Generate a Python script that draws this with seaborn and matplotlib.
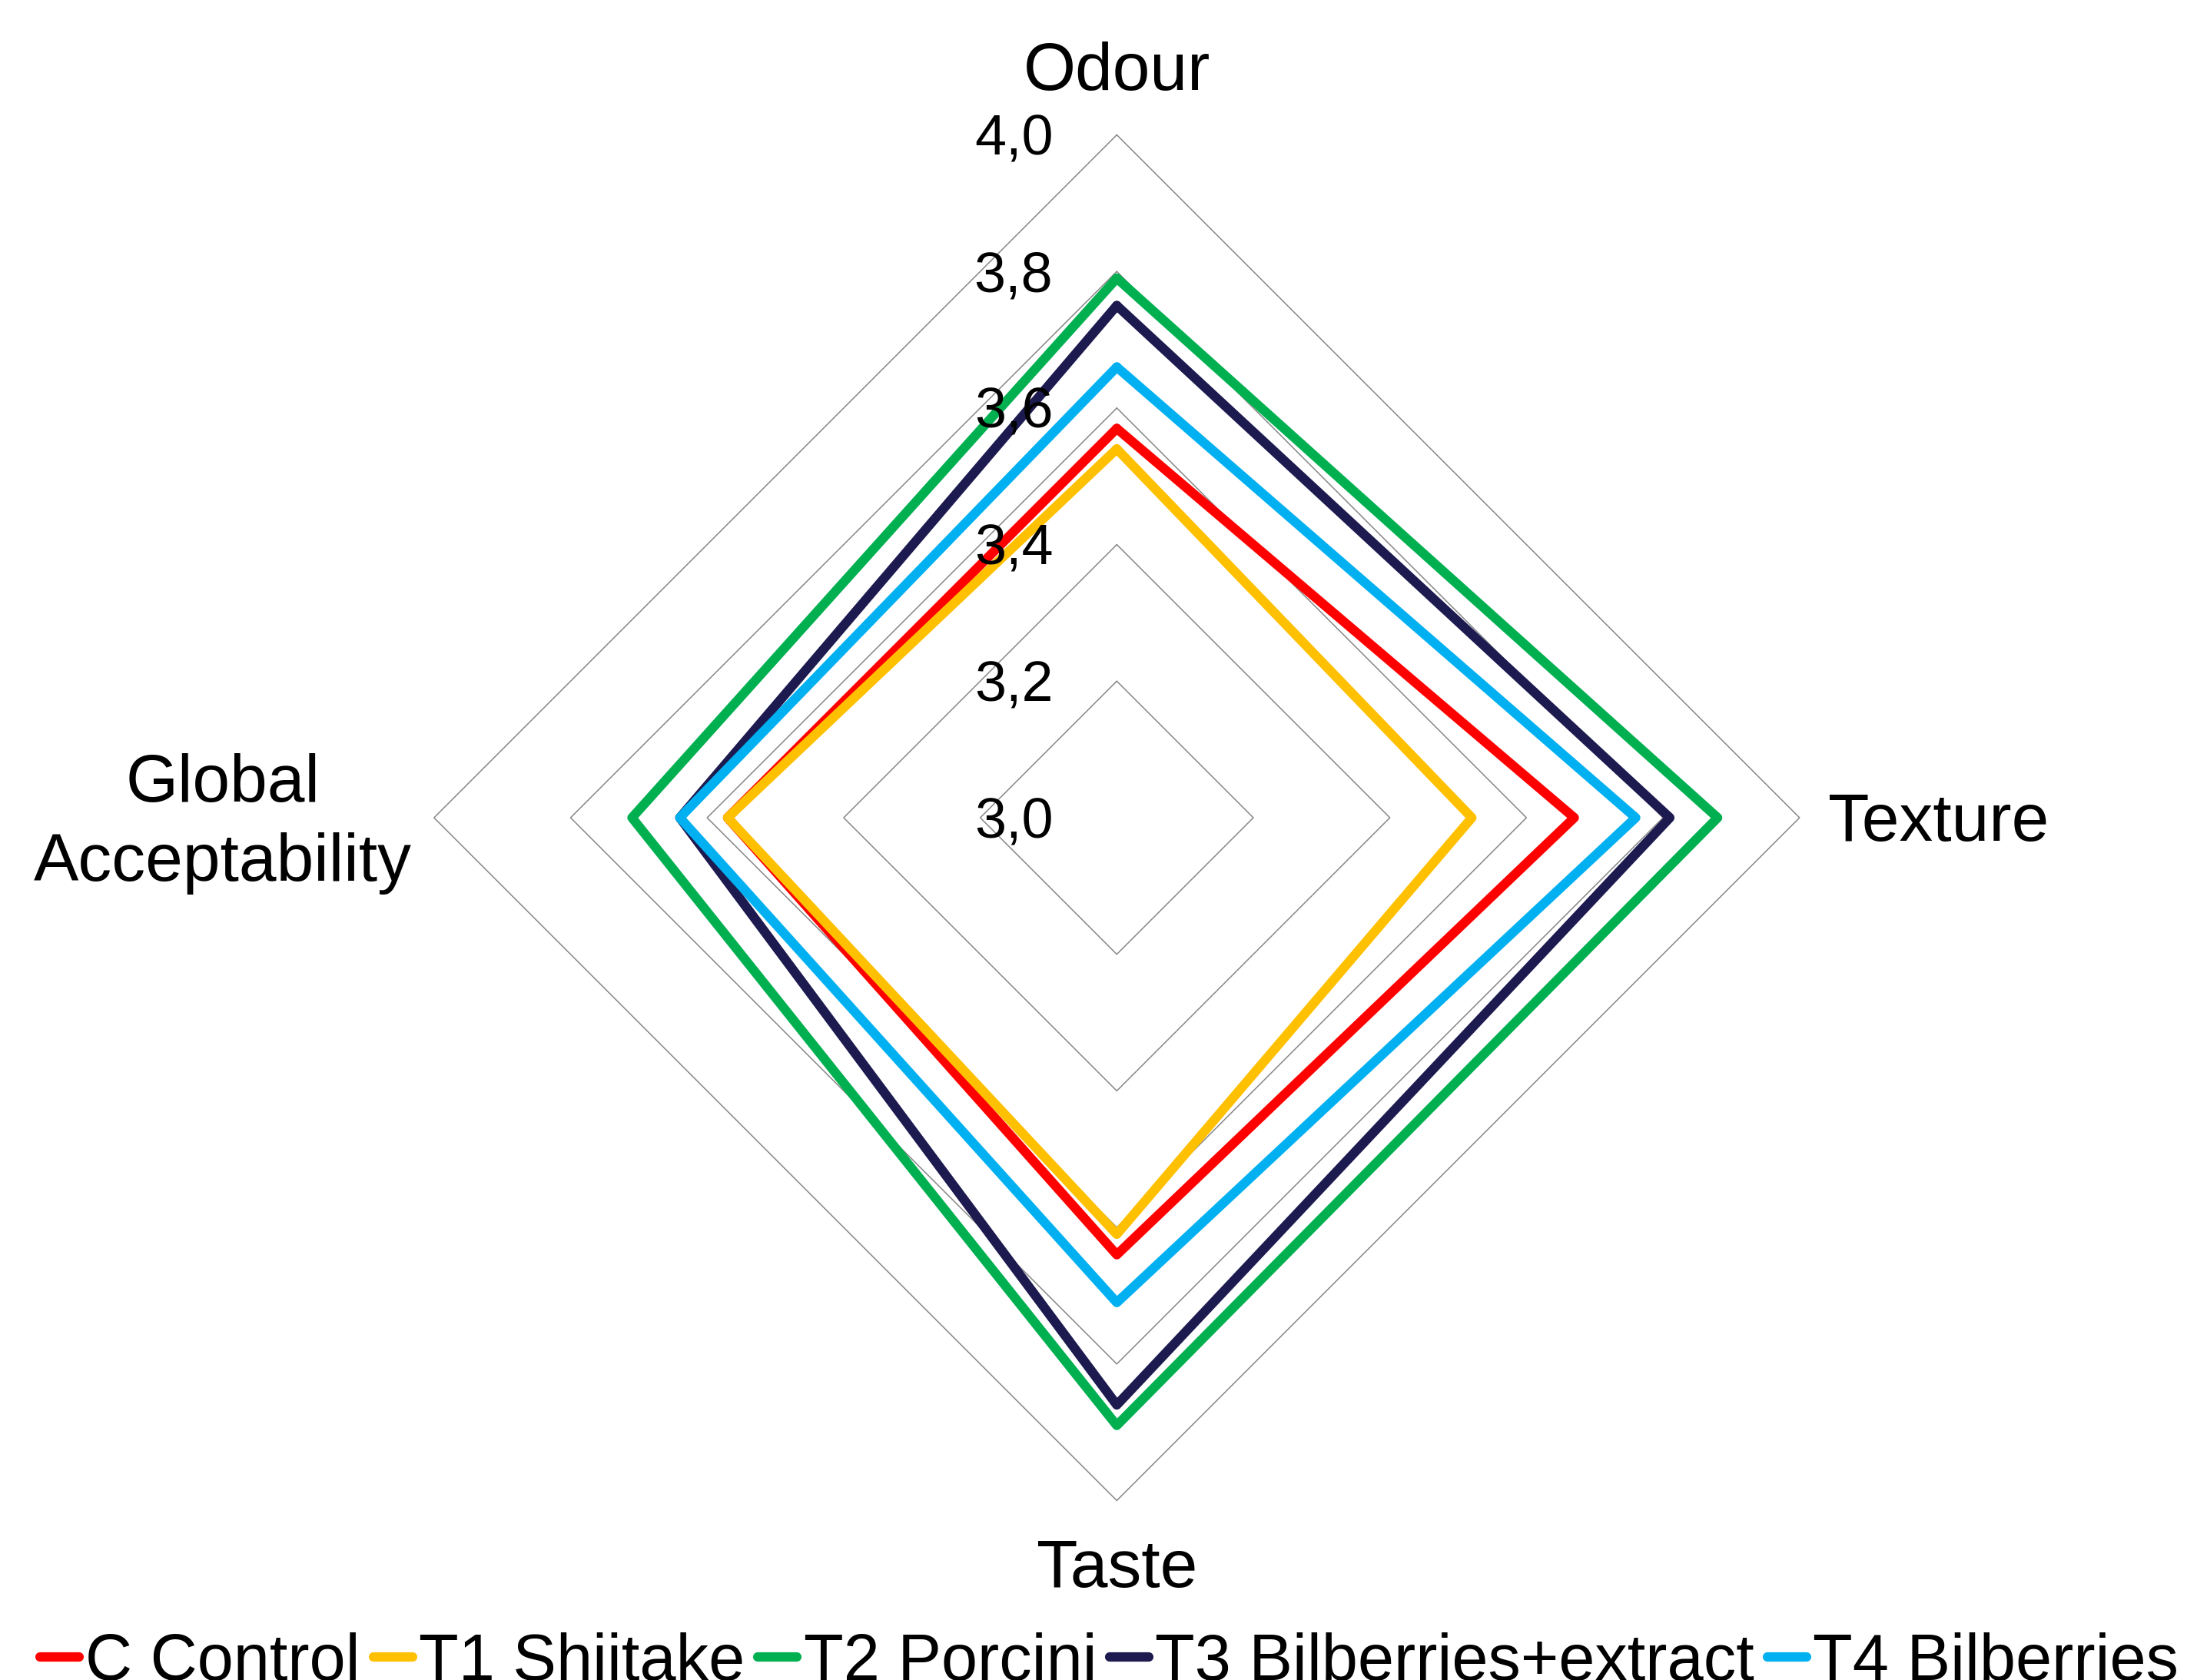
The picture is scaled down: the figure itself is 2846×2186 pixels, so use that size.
import numpy as np
import pandas as pd
import matplotlib
matplotlib.use("Agg")
import matplotlib.pyplot as plt
from matplotlib.lines import Line2D
from matplotlib.transforms import offset_copy
import seaborn as sns

# Sensory attributes (clockwise from the top) and mean panel scores
attributes = ["Odour", "Texture", "Taste", "Global Acceptability"]
samples = ["C Control", "T1 Shiitake", "T2 Porcini", "T3 Bilberries+extract", "T4 Bilberries"]
c_control = [3.57, 3.67, 3.64, 3.57]
t1_shiitake = [3.54, 3.52, 3.61, 3.57]
t2_porcini = [3.79, 3.88, 3.89, 3.71]
t3_bilberries_extract = [3.75, 3.81, 3.86, 3.64]
t4_bilberries = [3.66, 3.76, 3.71, 3.64]
scale_ticks = [3.0, 3.2, 3.4, 3.6, 3.8, 4.0]
scale_labels = ["3,0", "3,2", "3,4", "3,6", "3,8", "4,0"]
colors = ["#FF0000", "#FFC000", "#00B050", "#1C1A4F", "#00B0F0"]

series = [c_control, t1_shiitake, t2_porcini, t3_bilberries_extract, t4_bilberries]

sns.set_style("white")
plt.rcParams["font.family"] = ["Liberation Sans", "DejaVu Sans"]
plt.rcParams["text.color"] = "black"

angles = [i * 2 * np.pi / len(attributes) for i in range(len(attributes))]
closed_angles = angles + [2 * np.pi]

rows = []
for name, vals in zip(samples, series):
    for th, v in zip(closed_angles, vals + vals[:1]):
        rows.append({"sample": name, "theta": th, "score": v})
df = pd.DataFrame(rows)

W, H = 2846, 2186
fig = plt.figure(figsize=(W / 100, H / 100), dpi=100)
cx, cy, R = 1453.3, 1064.0, 888.5
ax = fig.add_axes([(cx - R) / W, (H - cy - R) / H, 2 * R / W, 2 * R / H],
                  projection="polar")
ax.set_theta_zero_location("N")
ax.set_theta_direction(-1)

# diamond-shaped grid
for r in scale_ticks[1:]:
    ax.plot(closed_angles, [r] * len(closed_angles), color="#878787",
            lw=1.1, zorder=0, clip_on=False)

sns.lineplot(data=df, x="theta", y="score", hue="sample", hue_order=samples,
             palette=colors, sort=False, estimator=None, legend=False, ax=ax,
             lw=8.8, solid_joinstyle="round", solid_capstyle="round")
for ln in ax.lines:
    ln.set_clip_on(False)

ax.set_ylim(3.0, 4.0)
ax.set_xticks([])
ax.set_yticks([])
ax.grid(False)
ax.spines["polar"].set_visible(False)
ax.set_xlabel("")
ax.set_ylabel("")

# value labels along the top axis
for r, lab in zip(scale_ticks, scale_labels):
    tr = offset_copy(ax.transData, fig=fig, x=-83, y=-26, units="dots")
    ax.text(0, r, lab, transform=tr, ha="right", va="baseline", fontsize=53)

# attribute labels
def label(theta, text, dx, dy, ha):
    tr = offset_copy(ax.transData, fig=fig, x=dx, y=dy, units="dots")
    ax.text(theta, 4.0, text, transform=tr, ha=ha, va="baseline", fontsize=63)

label(angles[0], "Odour", 0, 58, "center")
label(angles[1], "Texture", 37, -30, "left")
label(angles[2], "Taste", 0, -113, "center")
label(angles[3], "Global", -275, 21, "center")
label(angles[3], "Acceptability", -275, -82, "center")

handles = [Line2D([0], [0], color=c, lw=8.8, solid_capstyle="round")
           for c in colors]
fig.legend(handles, samples, loc="upper left",
           bbox_to_anchor=(52 / W, (H - 2124) / H), ncol=5, frameon=False,
           fontsize=61, handlelength=0.6, handletextpad=0.1,
           columnspacing=0.2, borderpad=0, borderaxespad=0)

fig.savefig("out.png", dpi=100, facecolor="white")
